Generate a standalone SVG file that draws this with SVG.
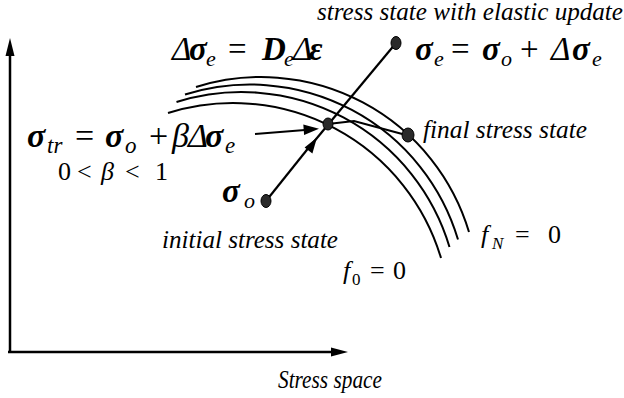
<svg xmlns="http://www.w3.org/2000/svg" width="624" height="398" viewBox="0 0 624 398">
<defs>
<path id="yarc" d="M168,113 A217,217 0 0 1 441,258"/>
</defs>
<rect width="624" height="398" fill="#fff"/>
<g id="axes" fill="#000">
<line x1="10" y1="353" x2="10" y2="50" stroke="#000" stroke-width="2.5"/>
<polygon points="10,38 5.5,56 14.5,56"/>
<line x1="8" y1="352" x2="336" y2="352" stroke="#000" stroke-width="2.5"/>
<polygon points="348,352 331,347.5 331,356.5"/>
<text font-family="Liberation Serif" font-style="italic" font-size="25" x="278" y="388" textLength="104" lengthAdjust="spacingAndGlyphs">Stress space</text>
</g>
<g id="yield-surfaces">
<g fill="none" stroke="#000" stroke-width="2">
<use href="#yarc"/>
<use href="#yarc" transform="translate(8.5,-11)"/>
<use href="#yarc" transform="translate(17,-18.5)"/>
<use href="#yarc" transform="translate(28,-26)"/>
</g>
<text font-family="Liberation Serif" x="481" y="243" font-size="26"><tspan font-style="italic">f</tspan><tspan font-style="italic" x="492" y="249" font-size="17">N</tspan><tspan x="515" y="243">=</tspan><tspan x="548" y="243">0</tspan></text>
<text font-family="Liberation Serif" x="343" y="279" font-size="26"><tspan font-style="italic">f</tspan><tspan x="352" y="285" font-size="17">0</tspan><tspan x="370" y="279">=</tspan><tspan x="393" y="279">0</tspan></text>
</g>
<g id="connectors" stroke="#000" stroke-width="2.2" fill="none">
<line x1="266" y1="201" x2="310" y2="146"/>
<polygon fill="#000" stroke="none" points="317,137.5 304.6,147.4 312.4,153.6"/>
<line x1="312" y1="144" x2="396" y2="43"/>
<line x1="255" y1="134" x2="305" y2="130"/>
<polygon fill="#000" stroke="none" points="319,128.8 303.3,124.6 304.1,135"/>
<polyline points="328,124 354,121 406,135"/>
</g>
<g id="node-initial">
<ellipse cx="266" cy="201" rx="5" ry="6.5" fill="#2a2a2a" stroke="#000"/>
<text font-family="Liberation Serif" font-size="33" y="202"><tspan font-style="italic" font-weight="bold" x="222">σ</tspan><tspan font-style="italic" font-size="22" x="244" y="208">o</tspan></text>
<text font-family="Liberation Serif" font-style="italic" font-size="25" x="162" y="248" textLength="176" lengthAdjust="spacingAndGlyphs">initial stress state</text>
</g>
<g id="node-trial">
<ellipse cx="328" cy="124" rx="5" ry="6" fill="#2a2a2a" stroke="#000"/>
<text font-family="Liberation Serif" font-size="34" y="147"><tspan font-style="italic" font-weight="bold" x="27">σ</tspan><tspan font-style="italic" font-size="23" x="47" y="153">tr</tspan><tspan x="75" y="147">=</tspan><tspan font-style="italic" font-weight="bold" x="105">σ</tspan><tspan font-style="italic" font-size="23" x="125" y="153">o</tspan><tspan x="149" y="147">+</tspan><tspan font-style="italic" x="172">β</tspan><tspan font-style="italic" x="188">Δ</tspan><tspan font-style="italic" font-weight="bold" x="205">σ</tspan><tspan font-style="italic" font-size="23" x="225" y="153">e</tspan></text>
<text font-family="Liberation Serif" font-size="26" y="180"><tspan x="58">0</tspan><tspan x="77">&lt;</tspan><tspan font-style="italic" x="101">β</tspan><tspan x="125">&lt;</tspan><tspan x="155">1</tspan></text>
</g>
<g id="node-elastic">
<ellipse cx="396" cy="43" rx="5" ry="6.5" fill="#2a2a2a" stroke="#000"/>
<text font-family="Liberation Serif" font-style="italic" font-size="25" x="317" y="20" textLength="306" lengthAdjust="spacingAndGlyphs">stress state with elastic update</text>
<text font-family="Liberation Serif" font-size="33" y="60"><tspan font-style="italic" font-weight="bold" x="415">σ</tspan><tspan font-style="italic" font-size="22" x="434" y="66">e</tspan><tspan x="451" y="60">=</tspan><tspan font-style="italic" font-weight="bold" x="482">σ</tspan><tspan font-style="italic" font-size="22" x="501" y="66">o</tspan><tspan x="520" y="60">+</tspan><tspan font-style="italic" x="551">Δ</tspan><tspan font-style="italic" font-weight="bold" x="572">σ</tspan><tspan font-style="italic" font-size="22" x="592" y="66">e</tspan></text>
<text font-family="Liberation Serif" font-size="33" y="60"><tspan font-style="italic" x="172">Δ</tspan><tspan font-style="italic" font-weight="bold" x="189">σ</tspan><tspan font-style="italic" font-size="22" x="206" y="66">e</tspan><tspan x="228" y="60">=</tspan><tspan font-style="italic" font-weight="bold" x="262">D</tspan><tspan font-style="italic" font-size="22" x="284" y="66">e</tspan><tspan font-style="italic" x="293" y="60">Δ</tspan><tspan font-style="italic" font-weight="bold" x="309">ε</tspan></text>
</g>
<g id="node-final">
<ellipse cx="408" cy="135" rx="6" ry="7" fill="#2a2a2a" stroke="#000"/>
<text font-family="Liberation Serif" font-style="italic" font-size="25" x="423" y="138" textLength="164" lengthAdjust="spacingAndGlyphs">final stress state</text>
</g>
</svg>
